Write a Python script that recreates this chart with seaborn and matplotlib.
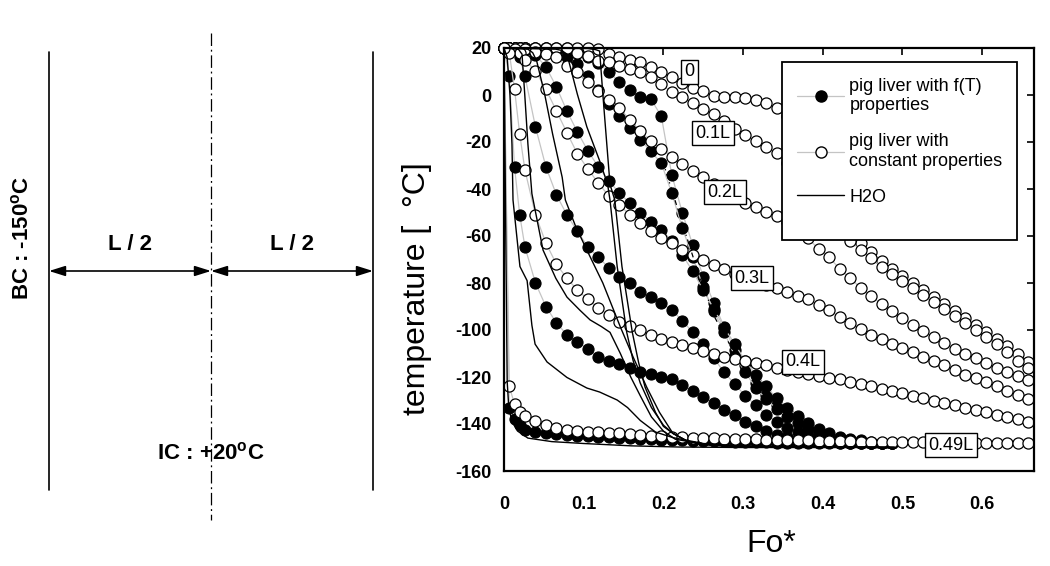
import matplotlib
matplotlib.use("Agg")
import matplotlib.pyplot as plt
import seaborn as sns
from matplotlib.lines import Line2D
from matplotlib.patches import Rectangle

# ---------------- data ----------------
fo_grid = [0, 0.0066, 0.0132, 0.0197, 0.0263, 0.0395, 0.0526, 0.0658, 0.0789, 0.0921,
           0.1053, 0.1184, 0.1316, 0.1447, 0.1579, 0.1711, 0.1842, 0.1974, 0.2105, 0.2237,
           0.2368, 0.25, 0.2632, 0.2763, 0.2895, 0.3026, 0.3158, 0.3289, 0.3421, 0.3553,
           0.3684, 0.3816, 0.3947, 0.4079, 0.4211, 0.4342, 0.4474, 0.4605, 0.4737, 0.4868,
           0.5, 0.5132, 0.5263, 0.5395, 0.5526, 0.5658, 0.5789, 0.5921, 0.6053, 0.6184,
           0.6316, 0.6447, 0.6579]
n_ft = 40  # f(T) series stop at Fo* ~ 0.487

# constant properties (open circles)
cp_0 = [20, 20, 20, 20, 20, 20, 20, 20, 20, 20, 20, 19.5,
        17.4, 16, 15, 14, 12, 9.8,
        7.7, 5, 3, 1.7, -0.4, -0.9, -0.9, -1.3, -2, -3.4, -5.5,
        -9, -14, -21, -29, -38, -47, -56, -63,
        -67, -70.5, -74, -77, -80, -83, -86, -89, -92, -95, -98, -101, -104, -107, -110, -113.6]
cp_01 = [20, 20, 20, 20, 20, 20, 20, 20, 20,
         18, 16.6, 14.5, 14, 12.3, 11, 9.8, 7.7, 4.5,
         1.3, -0.9, -3.4, -6, -8, -11, -14.5, -17, -19.6, -22, -24.7,
         -29, -34, -39.5, -45, -51, -57, -62, -66,
         -69.5, -73, -76, -79, -82, -85, -88, -91, -94, -97, -100, -103, -106, -109.5, -113, -116.2]
cp_02 = [20, 20, 20, 20, 19.5, 18.5,
         17.5, 16, 12.3, 9.8, 5.5, 1.7, -2, -5.5, -10.6, -15.3, -19.6, -23,
         -26.4, -29.4, -32.3, -35, -38, -41, -44, -46, -47.7, -49.8, -51.5,
         -54, -57.5, -61, -65.5, -69, -74, -78, -82,
         -85.5, -89, -92, -95, -98, -100.5, -103, -105.5, -108, -110, -112, -114, -116, -118, -119.7, -121.3]
cp_03 = [20, 20, 19.5, 18, 15,
         10.2, 2.5, -6.8, -16, -25, -31.5, -37.5, -43, -46.8, -51, -54.5, -58, -61,
         -63, -66, -68, -70, -72.3, -74, -76, -78, -79.5, -81, -82,
         -83.8, -85.5, -87, -89.4, -91.5, -94.5, -97, -99.5,
         -102, -104, -106, -107.7, -109.5, -111.5, -113, -115, -117, -119, -120.5, -122, -124, -126, -127.7, -129.4]
cp_04 = [20, 18, 2.5, -16.6, -32,
         -51, -63, -72, -78, -83, -87, -90.6, -93.6, -96.6, -98.3, -100, -102, -104,
         -105, -106.4, -107.7, -109, -110.3, -111.5, -112.3, -113.2, -114, -115, -116,
         -117, -118, -118.8, -119.5, -120.3, -121, -122, -123,
         -124, -125, -126, -127, -128, -129, -130, -131, -132, -133, -134, -135, -136, -137, -138, -139]
cp_049 = [20, -124, -131.5, -135, -136.6,
          -138.7, -140.4, -141.7, -142.5, -143, -143.4, -143.6, -143.8, -144, -144.3, -144.6, -145, -145.2,
          -145.4, -145.6, -145.8, -146, -146.1, -146.2, -146.3, -146.4, -146.5, -146.6, -146.7,
          -146.8, -146.9, -147, -147.1, -147.2, -147.3, -147.4, -147.5,
          -147.5, -147.6, -147.6, -147.7, -147.7, -147.8, -147.8, -147.9, -147.9, -148, -148, -148, -148, -148, -148, -148]

# temperature dependent properties (filled circles)
ft_0 = [20, 20, 20, 20, 20, 20, 20, 19.5, 19, 18,
        16, 13.6, 9.8, 5.5, 2, -0.9, -1.7, -9, -34, -50,
        -63.8, -77.4, -88.5, -98.7, -108.5, -115, -122.6, -127.7, -132, -135,
        -138, -141, -143.4, -145, -146, -147, -147.5, -148, -148, -148]
ft_01 = [20, 20, 20, 20, 20, 19.5, 19, 18, 16, 13,
         8, 2, -4, -9, -14, -19, -24, -29, -41.7, -56.6,
         -69, -81.7, -92, -101, -111, -118, -124.5, -129.5, -133.5, -137,
         -139.5, -142, -144, -145.5, -146.5, -147, -147.5, -148, -148, -148]
ft_02 = [20, 20, 20, 19.5, 19, 17, 12, 3.4, -6.8, -15.7,
         -23.8, -30.6, -36.6, -41.7, -46, -50, -54, -57.4, -62, -68,
         -75, -83, -91, -99, -106, -113, -119, -124, -129, -133,
         -136.5, -139.5, -142, -144, -145.5, -146.5, -147, -147.5, -148, -148]
ft_03 = [20, 20, 19, 16, 8, -13.6, -30.6, -42.5, -51, -58,
         -64.7, -69, -73.6, -77.4, -80, -83.8, -86, -88.5, -91.5, -96,
         -101, -106, -112, -118, -123, -128, -132, -136, -139, -141.5,
         -143.5, -145, -146, -147, -147.5, -148, -148, -148, -148, -148]
ft_04 = [20, 8, -30.6, -51, -64.7, -80, -90, -97, -102, -105,
         -108, -111.5, -113, -114.5, -116, -118, -118.7, -120, -121, -123.4,
         -126, -128.5, -131, -134, -136, -139, -141, -143, -144.5, -145.5,
         -146.3, -147, -147.5, -147.8, -148, -148, -148, -148, -148, -148]
ft_049 = [20, -133, -138, -140.4, -142.5, -143.4, -144, -144.4, -144.7, -145,
          -145.2, -145.4, -145.6, -145.8, -146, -146.2, -146.4, -146.6, -146.8, -147,
          -147.1, -147.2, -147.3, -147.4, -147.5, -147.6, -147.7, -147.8, -147.9, -148,
          -148, -148, -148, -148, -148, -148, -148, -148, -148, -148]

# H2O (solid lines)
h2o_fo_0 = [0, 0.105, 0.115, 0.12, 0.124, 0.129, 0.133, 0.139, 0.148, 0.161, 0.169, 0.177, 0.19, 0.2, 0.212, 0.23, 0.26, 0.3, 0.49]
h2o_T_0 = [20, 19.8, 19.3, 18.7, 0.4, -21, -38, -44.7, -73, -101, -114, -124.3, -135, -141, -144, -147.3, -149, -149.6, -150]
h2o_fo_01 = [0, 0.065, 0.072, 0.079, 0.092, 0.104, 0.12, 0.13, 0.133, 0.142, 0.154, 0.162, 0.171, 0.185, 0.2, 0.212, 0.23, 0.26, 0.3, 0.49]
h2o_T_01 = [20, 19.5, 19, 17.4, 0.4, -13.6, -28, -38, -44.7, -73, -101, -113, -122.6, -133, -140.5, -144, -147.3, -149, -149.6, -150]
h2o_fo_02 = [0, 0.03, 0.036, 0.041, 0.051, 0.061, 0.073, 0.077, 0.09, 0.104, 0.124, 0.146, 0.162, 0.179, 0.195, 0.212, 0.23, 0.26, 0.3, 0.49]
h2o_T_02 = [20, 19.5, 18, 14.5, 0.4, -16.6, -35, -44.7, -56, -66, -80, -98.7, -111.5, -124.3, -135, -144, -147.3, -149, -149.6, -150]
h2o_fo_03 = [0, 0.018, 0.0226, 0.026, 0.030, 0.035, 0.049, 0.065, 0.079, 0.095, 0.108, 0.122, 0.133, 0.146, 0.159, 0.171, 0.185, 0.2, 0.215, 0.25, 0.3, 0.49]
h2o_T_03 = [20, 19.5, 17.4, 0.4, -20.9, -42, -66, -78, -86, -91.5, -95.7, -98.5, -101, -110, -120, -128, -137, -143, -146.5, -148.5, -149.5, -150]
h2o_fo_04 = [0, 0.004, 0.0075, 0.010, 0.0113, 0.020, 0.029, 0.035, 0.039, 0.054, 0.079, 0.104, 0.12, 0.142, 0.155, 0.171, 0.19, 0.212, 0.25, 0.3, 0.49]
h2o_T_04 = [20, 16, 0, -21, -44.7, -73, -79, -98, -106, -113.6, -120.2, -124.7, -126.4, -129.8, -133, -138.5, -143.4, -145.8, -148.3, -149.5, -150]
h2o_fo_049 = [0, 0.004, 0.006, 0.01, 0.017, 0.03, 0.06, 0.1, 0.16, 0.22, 0.3, 0.49]
h2o_T_049 = [20, -122, -133, -139, -143, -146, -147.5, -148.3, -149.3, -149.8, -150, -150]

# short dash-dot trace in the steep region
dd_fo = [0.199, 0.212, 0.225, 0.243, 0.255, 0.265, 0.283]
dd_T = [-28, -42, -56, -75, -86, -95, -106]

position_labels = ["0", "0.1L", "0.2L", "0.3L", "0.4L", "0.49L"]
label_fo = [0.233, 0.262, 0.277, 0.311, 0.375, 0.561]
label_T = [9.8, -16.2, -41.3, -77.9, -113.6, -149]

xtick_vals = [0, 0.1, 0.2, 0.3, 0.4, 0.5, 0.6]
xtick_labels = ["0", "0.1", "0.2", "0.3", "0.4", "0.5", "0.6"]
ytick_vals = [20, 0, -20, -40, -60, -80, -100, -120, -140, -160]
ytick_labels = ["20", "0", "-20", "-40", "-60", "-80", "-100", "-120", "-140", "-160"]

legend_labels = ["pig liver with f(T)\nproperties", "pig liver with\nconstant properties", "H2O"]

# ---------------- style ----------------
sns.set_theme(style="white")
plt.rcParams["font.family"] = ["Liberation Sans", "DejaVu Sans"]
plt.rcParams["mathtext.fontset"] = "custom"
plt.rcParams["mathtext.rm"] = "Liberation Sans"
plt.rcParams["mathtext.bf"] = "Liberation Sans:bold"
for key in ["text.color", "axes.labelcolor", "xtick.color", "ytick.color", "axes.edgecolor"]:
    plt.rcParams[key] = "black"

GRAY = "#c4c4c4"
W, H = 1050, 566
fig = plt.figure(figsize=(W / 100, H / 100), dpi=100)
fig.patch.set_facecolor("white")

# ---------------- schematic (left) ----------------
sk = fig.add_axes([0, 0, 1, 1])
sk.set_xlim(0, W)
sk.set_ylim(H, 0)
sk.axis("off")
left_x, right_x, mid_x = 49, 373, 211
wall_top, wall_bot = 52, 490
sk.plot([left_x, left_x], [wall_top, wall_bot], color="black", lw=1.2)
sk.plot([right_x, right_x], [wall_top, wall_bot], color="black", lw=1.2)
sk.plot([mid_x, mid_x], [33, 520], color="black", lw=0.9, linestyle=(0, (10, 3, 1.5, 3)))
arrow_y = 271
for a, b in [(left_x, mid_x), (mid_x, right_x)]:
    sk.annotate("", xy=(b, arrow_y), xytext=(a, arrow_y),
                arrowprops=dict(arrowstyle="<|-|>,head_length=0.7,head_width=0.22",
                                color="black", lw=1.2, shrinkA=0, shrinkB=0, mutation_scale=14))
sk.text((left_x + mid_x) / 2, 244, "L / 2", ha="center", va="center", fontsize=16, fontweight="bold")
sk.text((mid_x + right_x) / 2, 244, "L / 2", ha="center", va="center", fontsize=16, fontweight="bold")
sk.text(22, 238, r"BC : -150$^{\mathbf{o}}$C", ha="center", va="center", rotation=90,
        fontsize=16, fontweight="bold")
sk.text(mid_x, 453, r"IC : +20$^{\mathbf{o}}$C", ha="center", va="center", fontsize=16, fontweight="bold")

# ---------------- chart (right) ----------------
ax = fig.add_axes([504 / W, 1 - 471 / H, 530 / W, 423 / H])
ax.set_facecolor("white")

ft_series = [ft_0, ft_01, ft_02, ft_03, ft_04, ft_049]
cp_series = [cp_0, cp_01, cp_02, cp_03, cp_04, cp_049]
h2o_series = [(h2o_fo_0, h2o_T_0), (h2o_fo_01, h2o_T_01), (h2o_fo_02, h2o_T_02),
              (h2o_fo_03, h2o_T_03), (h2o_fo_04, h2o_T_04), (h2o_fo_049, h2o_T_049)]

for T in ft_series:
    sns.lineplot(x=fo_grid[:n_ft], y=T, ax=ax, color=GRAY, lw=0.9, marker="o", markersize=8,
                 markerfacecolor="black", markeredgecolor="black", markeredgewidth=0.8,
                 estimator=None, sort=False, legend=False, zorder=2.5, clip_on=False)
for T in cp_series:
    sns.lineplot(x=fo_grid, y=T, ax=ax, color=GRAY, lw=0.9, marker="o", markersize=8,
                 markerfacecolor="white", markeredgecolor="black", markeredgewidth=0.9,
                 estimator=None, sort=False, legend=False, zorder=3, clip_on=False)
for fo, T in h2o_series:
    sns.lineplot(x=fo, y=T, ax=ax, color="black", lw=1.0, estimator=None, sort=False,
                 legend=False, zorder=3.5)
sns.lineplot(x=dd_fo, y=dd_T, ax=ax, color="black", lw=0.9, linestyle=(0, (4, 3, 1, 3)),
             estimator=None, sort=False, legend=False, zorder=3.6)

for lab, xf, yt in zip(position_labels, label_fo, label_T):
    ax.text(xf, yt, lab, ha="center", va="center", fontsize=13, zorder=6, color="black",
            bbox=dict(boxstyle="square,pad=0.2", fc="white", ec="black", lw=1.0))

ax.set_xlim(0, 0.665)
ax.set_ylim(-160, 20)
ax.set_xticks(xtick_vals)
ax.set_xticklabels(xtick_labels, fontweight="bold")
ax.set_yticks(ytick_vals)
ax.set_yticklabels(ytick_labels, fontweight="bold")
ax.tick_params(axis="both", direction="in", length=5, width=1.2, color="black",
               top=True, right=True, labelsize=13, labelcolor="black")
ax.tick_params(axis="x", pad=18)
ax.tick_params(axis="y", pad=9)
for sp in ax.spines.values():
    sp.set_visible(True)
    sp.set_color("black")
    sp.set_linewidth(1.6)
    sp.set_zorder(7)

ax.set_xlabel("Fo*", fontsize=23, color="black")
ax.set_ylabel("temperature [  °C]", fontsize=23, color="black")
ax.xaxis.set_label_coords(0.504, -0.138)
ax.yaxis.set_label_coords(-0.136, 0.43)

# legend: framed box + entries
ax.add_patch(Rectangle((0.525, 0.546), 0.443, 0.421, transform=ax.transAxes,
                       fc="white", ec="black", lw=1.3, zorder=5.5))
handles = [
    Line2D([], [], color=GRAY, lw=0.9, marker="o", markersize=8, markerfacecolor="black",
           markeredgecolor="black"),
    Line2D([], [], color=GRAY, lw=0.9, marker="o", markersize=8, markerfacecolor="white",
           markeredgecolor="black"),
    Line2D([], [], color="black", lw=1.0),
]
leg = ax.legend(handles, legend_labels, loc="upper left", bbox_to_anchor=(0.553, 0.93),
                frameon=False, borderpad=0, borderaxespad=0, handlelength=2.6,
                handletextpad=0.3, labelspacing=1.05, fontsize=13, labelcolor="black")
leg.set_zorder(6)

fig.savefig("out.png", dpi=100, facecolor="white")
